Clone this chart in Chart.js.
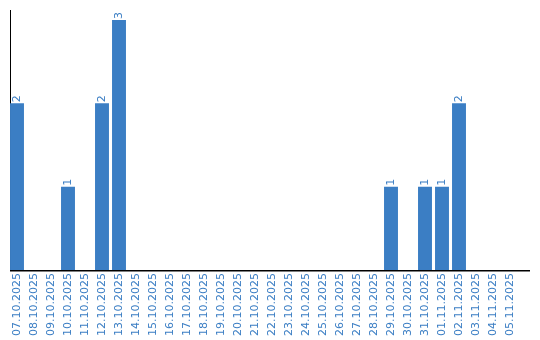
<!DOCTYPE html>
<html>
<head>
<meta charset="utf-8">
<script src="https://cdn.jsdelivr.net/npm/chart.js@4"></script>
<style>
  html, body { margin: 0; padding: 0; background: #fff; }
  #wrap { width: 540px; height: 340px; position: relative; }
</style>
</head>
<body>
<div id="wrap"><canvas id="dayChart"></canvas></div>
<script>
// days shown on the x axis
var days = [
    '07.10.2025', '08.10.2025', '09.10.2025', '10.10.2025', '11.10.2025',
    '12.10.2025', '13.10.2025', '14.10.2025', '15.10.2025', '16.10.2025',
    '17.10.2025', '18.10.2025', '19.10.2025', '20.10.2025', '21.10.2025',
    '22.10.2025', '23.10.2025', '24.10.2025', '25.10.2025', '26.10.2025',
    '27.10.2025', '28.10.2025', '29.10.2025', '30.10.2025', '31.10.2025',
    '01.11.2025', '02.11.2025', '03.11.2025', '04.11.2025', '05.11.2025'
];
// count per day
var counts = [
    2, 0, 0, 1, 0, 2, 3, 0, 0, 0,
    0, 0, 0, 0, 0, 0, 0, 0, 0, 0,
    0, 0, 1, 0, 1, 1, 2, 0, 0, 0
];

var blue = '#3b7ec4';

// axis lines drawn by hand (they run a bit past the last category)
var axisLines = {
    id: 'axisLines',
    beforeDatasetsDraw: function (chart) {
        var ctx = chart.ctx;
        var area = chart.chartArea;
        ctx.save();
        ctx.strokeStyle = '#000';
        ctx.lineWidth = 1;
        ctx.beginPath();
        ctx.moveTo(10.5, area.top);
        ctx.lineTo(10.5, area.bottom);
        ctx.stroke();
        ctx.lineWidth = 1.5;
        ctx.beginPath();
        ctx.moveTo(10, area.bottom + 0.75);
        ctx.lineTo(530, area.bottom + 0.75);
        ctx.stroke();
        ctx.restore();
    }
};

// value labels, rotated, above each non-zero bar
var valueLabels = {
    id: 'valueLabels',
    afterDatasetsDraw: function (chart) {
        var ctx = chart.ctx;
        var meta = chart.getDatasetMeta(0);
        ctx.save();
        ctx.fillStyle = blue;
        ctx.font = '11px "DejaVu Sans"';
        ctx.textAlign = 'left';
        ctx.textBaseline = 'middle';
        meta.data.forEach(function (bar, i) {
            if (!counts[i]) return;
            ctx.save();
            ctx.translate(bar.x, bar.y - 1);
            ctx.rotate(-Math.PI / 2);
            ctx.fillText(String(counts[i]), 0, 0);
            ctx.restore();
        });
        ctx.restore();
    }
};

var ctx = document.getElementById('dayChart').getContext('2d');
var dayChart = new Chart(ctx, {
    type: 'bar',
    data: {
        labels: days,
        datasets: [{
            data: counts,
            backgroundColor: blue,
            borderWidth: 0,
            categoryPercentage: 1,
            barPercentage: 0.82
        }]
    },
    options: {
        responsive: true,
        maintainAspectRatio: false,
        animation: false,
        layout: {
            padding: { left: 8.5, right: 21.5, top: 10, bottom: 0 }
        },
        plugins: {
            legend: { display: false },
            tooltip: { enabled: false }
        },
        scales: {
            x: {
                grid: { display: false, drawTicks: false },
                border: { display: false },
                ticks: {
                    color: blue,
                    font: { family: 'DejaVu Sans', size: 11 },
                    minRotation: 90,
                    maxRotation: 90,
                    autoSkip: false,
                    padding: 3
                },
                afterFit: function (scale) { scale.height = 70; }
            },
            y: {
                display: false,
                min: 0,
                max: 3.12
            }
        }
    },
    plugins: [axisLines, valueLabels]
});
</script>
</body>
</html>
